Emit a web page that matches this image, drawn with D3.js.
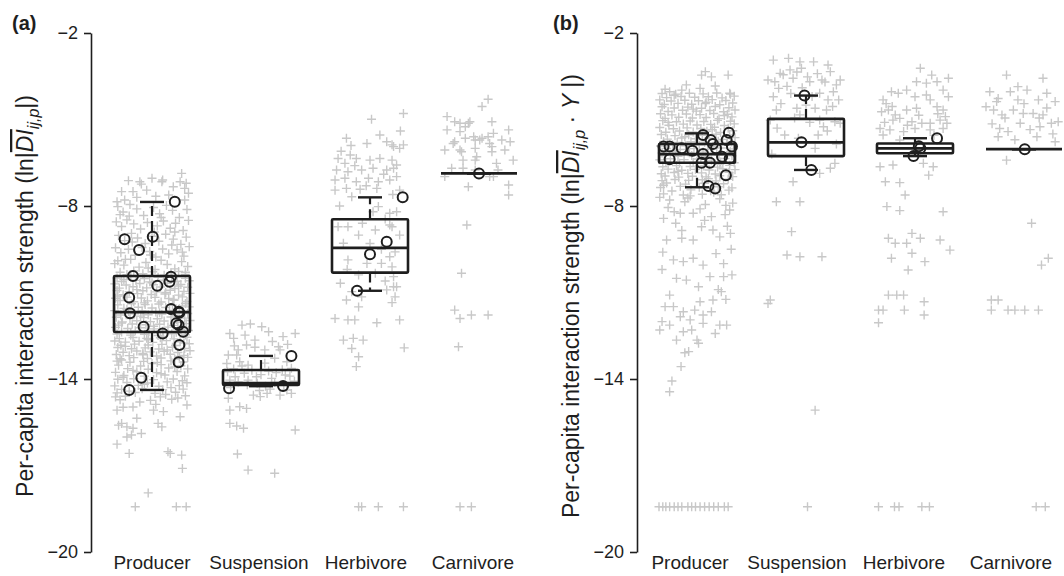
<!DOCTYPE html>
<html>
<head>
<meta charset="utf-8">
<script src="https://cdn.jsdelivr.net/npm/d3@7"></script>
<style>
  body { margin: 0; background: #fff; }
  text { font-family: "Liberation Sans", Arial, Helvetica, sans-serif; }
</style>
</head>
<body>
<svg id="chart" width="1064" height="576"></svg>
<script>
const categories = ['Producer', 'Suspension', 'Herbivore', 'Carnivore'];
const yTicks = [-2, -8, -14, -20];

// grey crosses: [jitter as fraction of box width, ln value]
const aProducer = [
  [.39,-6.87],[.14,-7.10],[.00,-7.04],[-.14,-7.24],[-.31,-7.12],[-.40,-7.50],[.37,-7.16],[.43,-7.39],[-.16,-7.16],[.13,-7.16],[-.25,-7.50],
  [-.07,-7.45],[.28,-7.33],[.45,-7.21],[-.46,-7.85],[-.36,-7.79],[.43,-7.79],[.48,-7.56],[.22,-7.62],[-.20,-7.70],[.05,-7.66],
  [-.45,-8.02],[-.38,-8.21],[-.29,-7.95],[-.20,-8.10],[-.11,-8.33],[.02,-8.05],[.10,-8.27],[.19,-7.98],[.27,-8.15],[.36,-8.40],[.46,-8.12],
  [-.47,-8.55],[-.40,-8.71],[-.33,-8.48],[-.24,-8.62],[-.15,-8.80],[-.06,-8.57],[.07,-8.69],[.15,-8.52],[.24,-8.77],[.31,-8.60],[.41,-8.85],[.48,-8.50],
  [-.44,-9.02],[-.36,-9.20],[-.27,-8.95],[-.19,-9.11],[-.09,-9.30],[.00,-9.05],[.09,-9.22],[.18,-8.98],[.28,-9.15],[.38,-9.33],[.45,-9.08],
  [-.48,-9.45],[-.41,-9.62],[-.31,-9.50],[-.22,-9.71],[-.13,-9.44],[-.03,-9.58],[.05,-9.77],[.14,-9.49],[.22,-9.66],[.33,-9.52],[.42,-9.74],[.49,-9.41],
  [-.45,-9.90],[-.37,-10.05],[-.28,-9.85],[-.17,-10.12],[-.08,-9.96],[.04,-10.20],[.12,-9.88],[.20,-10.03],[.30,-10.18],[.39,-9.93],[.47,-10.10],
  [-.42,-10.30],[-.33,-10.38],[-.24,-10.25],[-.12,-10.35],[.01,-10.28],[.16,-10.40],[.25,-10.32],[.35,-10.27],[.44,-10.37],
  [-.30,-8.35],[.03,-8.90],[-.35,-9.85],[.26,-9.35],[-.05,-10.15],
  [-.42,-8.30],[.12,-8.40],[.40,-9.60],[-.26,-9.25],[.30,-8.90],[-.02,-9.70],[.44,-10.30],[-.49,-10.00],
  [-.46,-10.50],[-.28,-10.45],[-.10,-10.52],[.08,-10.47],[.26,-10.44],[.44,-10.51],
  [-.40,-10.62],[-.21,-10.58],[-.03,-10.63],[.15,-10.57],[.33,-10.61],[.49,-10.59],
  [-.49,-10.70],[-.34,-10.74],[-.16,-10.69],[.02,-10.73],[.20,-10.68],[.38,-10.72],
  [-.43,-10.85],[-.25,-10.80],[-.07,-10.84],[.11,-10.81],[.30,-10.86],[.47,-10.82],
  [-.46,-10.93],[-.30,-10.97],[-.12,-10.94],[.06,-10.98],[.24,-10.92],[.42,-10.96],
  [-.38,-11.08],[-.19,-11.04],[-.01,-11.07],[.17,-11.05],[.35,-11.09],[.50,-11.03],
  [-.48,-11.20],[-.33,-11.16],[-.14,-11.19],[.04,-11.17],[.22,-11.21],[.40,-11.15],
  [-.42,-11.28],[-.24,-11.32],[-.06,-11.29],[.12,-11.33],[.29,-11.27],[.46,-11.31],
  [-.45,-11.43],[-.27,-11.39],[-.09,-11.42],[.09,-11.40],[.27,-11.44],[.44,-11.38],
  [-.37,-11.55],[-.18,-11.51],[.00,-11.54],[.18,-11.52],[.36,-11.56],[.49,-11.50],
  [-.49,-11.63],[-.31,-11.67],[-.13,-11.64],[.05,-11.68],[.23,-11.62],[.41,-11.66],
  [-.41,-11.78],[-.23,-11.74],[-.05,-11.77],[.13,-11.75],[.31,-11.79],[.47,-11.73],
  [-.47,-11.86],[-.29,-11.90],[-.11,-11.87],[.07,-11.91],[.25,-11.85],[.43,-11.89],
  [-.39,-12.02],[-.20,-11.98],[-.02,-12.01],[.16,-11.99],[.34,-12.03],[.50,-11.97],
  [-.44,-12.13],[-.26,-12.09],[-.08,-12.12],[.10,-12.10],[.28,-12.14],[.45,-12.08],
  [-.48,-12.21],[-.32,-12.25],[-.15,-12.22],[.03,-12.26],[.21,-12.20],[.39,-12.24],
  [-.40,-12.37],[-.22,-12.33],[-.04,-12.36],[.14,-12.34],[.32,-12.38],[.48,-12.32],
  [-.46,-12.44],[-.28,-12.48],[-.10,-12.45],[.08,-12.49],[.26,-12.43],[.44,-12.47],
  [-.43,-12.60],[-.25,-12.56],[-.07,-12.59],[.11,-12.57],[.29,-12.61],[.46,-12.55],
  [-.49,-12.68],[-.35,-12.72],[-.17,-12.69],[.01,-12.73],[.19,-12.67],[.37,-12.71],
  [-.41,-12.83],[-.23,-12.79],[-.05,-12.82],[.13,-12.80],[.31,-12.84],[.49,-12.78],
  [-.45,-12.91],[-.27,-12.95],[-.09,-12.92],[.09,-12.96],[.27,-12.90],[.43,-12.94],
  [-.38,-13.07],[-.20,-13.03],[-.02,-13.06],[.16,-13.04],[.34,-13.08],[.50,-13.02],
  [-.47,-13.15],[-.30,-13.19],[-.12,-13.16],[.06,-13.20],[.24,-13.14],[.42,-13.18],
  [-.42,-13.30],[-.24,-13.26],[-.06,-13.29],[.12,-13.27],[.30,-13.31],[.47,-13.25],
  [-.46,-13.38],[-.29,-13.42],[-.11,-13.39],[.07,-13.43],[.25,-13.37],[.41,-13.41],
  [-.37,-10.55],[.00,-10.66],[.35,-10.78],[-.20,-10.90],[.18,-11.00],[-.45,-11.12],[.28,-11.24],[-.10,-11.36],[.40,-11.47],[-.33,-11.58],
  [.10,-11.70],[-.15,-11.82],[.32,-11.94],[-.40,-12.06],[.02,-12.17],[.38,-12.29],[-.28,-12.40],[.15,-12.52],[-.05,-12.64],[.42,-12.75],
  [-.35,-12.87],[.20,-12.99],[-.12,-13.11],[.36,-13.22],[-.40,-13.34],[.00,-13.46],[.30,-13.58],[-.25,-13.70],[.12,-13.82],[-.38,-13.94],
  [.40,-14.06],[-.10,-14.18],[.25,-14.30],[-.30,-14.42],[.18,-14.54],[-.48,-14.62],[.34,-14.66],[-.16,-14.80],[.05,-14.88],[.46,-14.90],
  [-.44,-13.52],[-.15,-13.55],[.12,-13.50],[.38,-13.54],[-.32,-13.64],[-.05,-13.66],[.22,-13.62],[.47,-13.65],
  [-.48,-13.77],[-.20,-13.75],[.06,-13.78],[.33,-13.74],[-.37,-13.88],[-.10,-13.90],[.17,-13.86],[.43,-13.89],
  [-.45,-14.01],[-.24,-13.99],[.02,-14.02],[.28,-14.00],[-.33,-14.12],[-.06,-14.14],[.20,-14.10],[.46,-14.13],
  [-.49,-14.24],[-.18,-14.22],[.09,-14.25],[.36,-14.23],[-.40,-14.36],[-.13,-14.34],[.14,-14.37],[.41,-14.35],
  [-.46,-14.48],[-.22,-14.47],[.04,-14.50],[.31,-14.46],[-.35,-14.60],[.11,-14.62],[.44,-14.58],[-.42,-14.72],[-.02,-14.74],[.26,-14.70],
  [-.46,-15.08],[-.38,-14.98],[-.25,-14.97],[-.20,-15.36],[.02,-15.08],[.15,-15.13],[.37,-15.31],[-.44,-15.60],[-.40,-15.54],
  [-.33,-15.66],[-.25,-15.71],[-.14,-15.89],[.08,-15.54],[.13,-15.66],[-.46,-16.26],[-.33,-16.01],[-.27,-15.94],[-.30,-16.58],
  [.21,-16.52],[.24,-16.58],[.39,-16.64],[.40,-17.10],[-.05,-17.95],[-.22,-18.43],[.32,-18.43],[.45,-18.43]
];
const aSuspension = [
  [-.25,-12.13],[-.14,-12.09],[.01,-12.19],[.10,-12.36],[.45,-12.42],[.29,-12.53],[-.41,-12.42],[-.36,-12.59],[-.21,-12.48],[-.08,-12.65],
  [-.19,-12.82],[-.30,-12.99],[-.43,-13.17],[-.32,-13.17],[.23,-12.88],[.25,-12.99],[.18,-13.28],[.34,-13.40],[-.45,-13.46],[-.28,-13.40],
  [-.17,-13.52],[.05,-12.99],[.40,-13.63],[-.41,-14.04],[-.34,-13.92],[-.06,-13.92],[.14,-13.98],[-.17,-14.04],[.32,-13.86],[-.10,-14.56],
  [-.01,-14.61],[.08,-14.50],[.25,-14.56],[.34,-14.38],[-.43,-14.67],[-.41,-15.08],[-.28,-14.96],[-.19,-15.02],[-.41,-15.54],[-.32,-15.63],
  [-.23,-15.71],[.45,-15.77],[-.31,-16.60],[-.17,-17.16],[.18,-17.27],
  [-.44,-13.75],[-.36,-13.65],[-.22,-13.80],[-.12,-13.70],[.00,-13.85],[.10,-13.72],[.20,-13.78],[.28,-13.68],[.38,-13.90],[-.30,-14.10],
  [-.18,-14.20],[-.05,-14.15],[.06,-14.25],[.18,-14.12],[.30,-14.22],[.44,-14.08],[-.40,-14.30],[.12,-14.35],[-.25,-13.55],[.05,-13.45],
  [-.08,-12.90],[.15,-12.70],[.35,-12.80],[-.35,-12.85],[.40,-14.50],[-.02,-14.40]
];
const aHerbivore = [
  [.02,-4.99],[-.31,-5.65],[.13,-5.54],[-.04,-5.83],[.22,-5.77],[.31,-5.94],[-.42,-6.35],[-.33,-6.52],[-.26,-6.23],[-.18,-6.35],
  [.00,-6.41],[.13,-6.35],[.29,-6.41],[-.44,-6.75],[-.29,-6.81],[-.11,-6.75],[.04,-6.69],[.22,-6.75],[.35,-6.58],[-.46,-7.10],
  [-.33,-7.04],[-.18,-7.16],[-.02,-7.04],[.11,-7.16],[.26,-7.10],[-.46,-7.45],[-.31,-7.39],[-.13,-7.42],[.09,-7.39],[-.24,-7.68],
  [.11,-8.02],[.04,-8.20],[.26,-8.25],[-.42,-8.72],[-.29,-8.72],[-.15,-9.01],[.07,-8.83],[.26,-8.66],[-.35,-9.29],[-.29,-9.87],
  [-.04,-9.99],[.15,-9.99],[.26,-9.76],[-.15,-10.39],[.07,-10.33],[.31,-10.45],[-.39,-10.68],[-.24,-10.97],[-.11,-11.15],[.22,-10.91],
  [.35,-10.80],[-.31,-11.26],[-.46,-11.90],[-.29,-11.95],[-.20,-11.95],[.09,-12.05],[-.35,-12.65],[-.22,-12.59],[-.09,-12.65],[-.24,-12.94],
  [-.15,-13.23],[-.18,-13.57],[-.15,-18.43],[-.11,-18.43],[.11,-18.43],[.44,-4.79],[.29,-5.88],[.39,-6.00],[.44,-5.88],[.31,-6.69],
  [.35,-6.98],[.39,-7.45],[.35,-8.20],[.29,-8.72],[.39,-9.01],[.33,-9.59],[.29,-10.11],[.31,-10.80],[.33,-11.15],[.29,-11.35],
  [.39,-11.95],[.45,-12.92],[.44,-18.43],
  [-.38,-6.10],[-.20,-6.60],[.18,-6.90],[-.05,-7.30],[.30,-7.60],[-.40,-8.00],[.20,-8.45],[-.10,-8.60],[.00,-9.30],[.15,-9.50],
  [-.30,-10.20],[.20,-10.60],[-.15,-11.50],[.40,-5.40],[-.25,-5.90]
];
const aCarnivore = [
  [-.42,-4.90],[-.32,-5.08],[-.18,-5.25],[-.12,-5.08],[-.25,-5.42],[-.05,-5.71],[.04,-5.65],[-.32,-5.77],[-.45,-6.06],[-.25,-6.06],
  [-.21,-6.41],[-.05,-6.41],[.12,-5.60],[.17,-6.12],[-.36,-6.69],[-.21,-6.69],[-.14,-7.33],[-.16,-8.66],[-.23,-10.33],[-.32,-11.61],
  [-.25,-11.90],[-.10,-11.78],[.12,-11.78],[-.27,-12.88],[.04,-4.55],[.12,-4.30],[-.25,-18.43],[-.10,-18.43],
  [.17,-5.08],[.39,-5.36],[.19,-5.48],[.30,-5.71],[.41,-5.77],[.17,-5.94],[.34,-6.06],[.45,-6.41],[.23,-6.52],[.14,-6.98],
  [.39,-7.27],[.39,-7.62],[-.25,-5.13],[-.14,-5.13],[-.42,-5.36],[-.07,-5.60],[-.18,-5.65],[.01,-5.71],[-.34,-5.83],[-.23,-6.12],
  [-.05,-6.00],[.14,-5.83],[-.03,-6.29],[-.05,-6.75],[.25,-6.75],[-.45,-6.98],[.19,-6.98]
];

const bProducer = [
  [.11,-3.34],[.06,-3.46],[.19,-3.52],[.41,-3.46],[-.14,-3.80],[-.36,-4.04],[-.42,-3.95],[-.20,-3.98],[.04,-3.92],[.24,-3.84],[.43,-4.09],
  [-.46,-4.10],[-.28,-4.12],[-.10,-4.09],[.08,-4.11],[.26,-4.08],[.44,-4.12],
  [-.40,-4.24],[-.21,-4.20],[-.03,-4.23],[.15,-4.21],[.33,-4.25],[.49,-4.19],
  [-.49,-4.32],[-.34,-4.36],[-.16,-4.33],[.02,-4.35],[.20,-4.31],[.38,-4.34],
  [-.43,-4.48],[-.25,-4.44],[-.07,-4.47],[.11,-4.45],[.30,-4.49],[.47,-4.43],
  [-.46,-4.56],[-.30,-4.60],[-.12,-4.57],[.06,-4.61],[.24,-4.55],[.42,-4.59],
  [-.38,-4.72],[-.19,-4.68],[-.01,-4.71],[.17,-4.69],[.35,-4.73],[.50,-4.67],
  [-.48,-4.80],[-.33,-4.84],[-.14,-4.81],[.04,-4.83],[.22,-4.79],[.40,-4.82],
  [-.42,-4.96],[-.24,-4.92],[-.06,-4.95],[.12,-4.93],[.29,-4.97],[.46,-4.91],
  [-.45,-5.04],[-.27,-5.08],[-.09,-5.05],[.09,-5.07],[.27,-5.03],[.44,-5.06],
  [-.37,-5.20],[-.18,-5.16],[.00,-5.19],[.18,-5.17],[.36,-5.21],[.49,-5.15],
  [-.49,-5.28],[-.31,-5.32],[-.13,-5.29],[.05,-5.31],[.23,-5.27],[.41,-5.30],
  [-.41,-5.44],[-.23,-5.40],[-.05,-5.43],[.13,-5.41],[.31,-5.45],[.47,-5.39],
  [-.47,-5.52],[-.29,-5.56],[-.11,-5.53],[.07,-5.55],[.25,-5.51],[.43,-5.54],
  [-.39,-5.68],[-.20,-5.64],[-.02,-5.67],[.16,-5.65],[.34,-5.69],[.50,-5.63],
  [-.44,-5.76],[-.26,-5.80],[-.08,-5.77],[.10,-5.79],[.28,-5.75],[.45,-5.78],
  [-.48,-5.92],[-.32,-5.88],[-.15,-5.91],[.03,-5.89],[.21,-5.93],[.39,-5.87],
  [-.40,-6.00],[-.22,-6.04],[-.04,-6.01],[.14,-6.03],[.32,-5.99],[.48,-6.02],
  [-.46,-6.16],[-.28,-6.12],[-.10,-6.15],[.08,-6.13],[.26,-6.17],[.44,-6.11],
  [-.43,-6.24],[-.25,-6.28],[-.07,-6.25],[.11,-6.27],[.29,-6.23],[.46,-6.26],
  [-.49,-6.40],[-.35,-6.36],[-.17,-6.39],[.01,-6.37],[.19,-6.41],[.37,-6.35],
  [-.41,-6.48],[-.23,-6.52],[-.05,-6.49],[.13,-6.51],[.31,-6.47],[.49,-6.50],
  [-.45,-6.64],[-.27,-6.60],[-.09,-6.63],[.09,-6.61],[.27,-6.65],[.43,-6.59],
  [-.38,-6.72],[-.20,-6.76],[-.02,-6.73],[.16,-6.75],[.34,-6.71],[.50,-6.74],
  [-.47,-6.88],[-.30,-6.84],[-.12,-6.87],[.06,-6.85],[.24,-6.89],[.42,-6.83],
  [-.42,-6.96],[-.24,-7.00],[-.06,-6.97],[.12,-6.99],[.30,-6.95],[.47,-6.98],
  [-.46,-7.12],[-.29,-7.08],[-.11,-7.11],[.07,-7.09],[.25,-7.13],[.41,-7.07],
  [-.40,-7.20],[-.15,-7.24],[.10,-7.21],[.35,-7.23],[-.48,-7.36],[-.22,-7.32],[.03,-7.35],[.28,-7.33],[.46,-7.37],
  [-.33,-7.48],[-.08,-7.44],[.18,-7.47],[.42,-7.45],[-.44,-7.58],[-.18,-7.62],[.07,-7.59],[.32,-7.61],
  [-.30,-4.16],[.12,-4.40],[-.05,-4.64],[.36,-4.86],[-.38,-5.10],[.20,-5.35],[-.16,-5.60],[.40,-5.83],[-.32,-6.07],[.05,-6.32],
  [.30,-6.55],[-.25,-6.80],[.15,-7.05],[-.44,-7.28],[.22,-7.52],[-.12,-7.72],[.38,-7.98],[-.30,-8.20],[.10,-8.50],[-.20,-8.85],[.44,-8.95],
  [-.36,-7.79],[-.49,-7.70],[-.16,-7.85],[-.09,-7.65],[.11,-7.95],[.30,-7.75],[.47,-7.90],[-.38,-8.05],[.04,-8.10],[.37,-8.30],
  [-.44,-8.43],[-.22,-8.25],[-.05,-8.25],[.19,-8.37],[.43,-8.14],[-.40,-9.18],[-.20,-9.12],[-.05,-9.18],[.06,-8.72],[.21,-8.83],
  [.30,-9.07],[-.31,-9.87],[-.18,-9.93],[-.05,-9.81],[.08,-10.05],[.17,-10.45],[.35,-10.45],[.46,-10.39],[-.27,-10.51],[-.14,-10.57],
  [-.36,-11.09],[-.28,-8.60],[.40,-8.70],[.45,-9.50],[-.45,-9.60],[.25,-9.65],[.35,-10.00],[-.46,-10.20],[.02,-10.80],[.28,-10.90],
  [-.49,-12.30],[-.46,-12.01],[-.36,-12.13],[-.42,-11.49],[-.31,-11.49],[-.27,-12.65],[-.22,-11.84],[-.18,-11.67],[-.18,-12.36],[-.09,-11.95],
  [-.07,-12.30],[-.03,-11.61],[.00,-12.65],[.02,-12.76],[.04,-11.32],[.08,-11.78],[.08,-12.07],[.19,-11.67],[.21,-11.26],[.24,-12.42],
  [.32,-10.97],[.38,-11.24],[.30,-12.13],[.39,-12.13],[-.16,-13.09],[-.11,-13.05],[-.21,-13.57],[-.33,-14.07],[-.36,-14.44],
  [-.50,-18.43],[-.45,-18.43],[-.41,-18.43],[-.36,-18.43],[-.30,-18.43],[-.25,-18.43],[-.20,-18.43],[-.12,-18.43],[-.07,-18.43],
  [-.02,-18.43],[.04,-18.43],[.10,-18.43],[.16,-18.43],[.22,-18.43],[.28,-18.43],[.36,-18.43],[.41,-18.43]
];
const bSuspension = [
  [-.23,-2.88],[-.08,-3.00],[-.06,-3.22],[.10,-3.00],[.29,-3.11],[.32,-3.34],[.40,-3.80],[.45,-3.63],[.21,-3.63],[.05,-3.69],
  [-.17,-3.57],[-.21,-3.28],[.18,-4.09],[.36,-4.04],[.29,-4.32],[.43,-4.32],[.27,-4.67],[.12,-4.61],[-.12,-4.61],[-.08,-4.84],
  [.18,-5.02],[.23,-5.25],[.38,-5.08],[.45,-5.13],[-.28,-5.54],[.16,-5.54],[.38,-6.52],[.32,-6.69],[.18,-6.87],[-.17,-7.16],
  [-.08,-7.85],[-.19,-8.89],[-.08,-9.76],[.21,-9.76],[-.43,-2.94],[-.50,-3.63],[-.41,-3.69],[-.36,-3.92],[-.43,-4.21],[-.34,-3.40],
  [-.39,-4.67],[-.47,-5.02],[-.39,-7.85],[-.47,-11.26],[-.50,-11.38],[-.25,-9.70],[.12,-15.08],[.02,-18.43],
  [-.30,-3.45],[-.12,-3.35],[.02,-3.52],[.15,-3.41],[.25,-3.70],[-.25,-3.85],[-.05,-3.90],[.08,-4.20],[-.20,-4.10],[-.33,-4.45],
  [.00,-4.50],[.35,-4.55],[-.15,-4.95],[.05,-5.10],[-.38,-5.30],[.28,-5.40],[-.10,-5.65],[.40,-5.85],[-.45,-6.20],[.12,-6.00]
];
const bHerbivore = [
  [.07,-3.22],[.22,-3.46],[.44,-3.57],[.02,-3.69],[.15,-3.74],[.29,-3.69],[-.11,-3.98],[-.31,-4.04],[-.22,-4.09],[.00,-4.21],
  [.15,-4.15],[.37,-3.98],[.44,-4.21],[-.42,-4.32],[.20,-4.32],[-.44,-4.73],[-.35,-4.67],[-.26,-4.84],[-.11,-4.67],[.02,-4.61],
  [.29,-4.56],[.37,-4.67],[-.29,-5.02],[-.20,-4.96],[-.04,-5.08],[.09,-5.13],[.20,-5.13],[.33,-5.02],[.42,-5.13],[-.46,-5.31],
  [-.33,-5.36],[-.15,-5.42],[.00,-5.31],[.20,-5.36],[.37,-5.31],[-.42,-5.54],[-.20,-5.71],[-.46,-6.64],[-.29,-6.58],[.11,-6.52],
  [.24,-6.64],[.18,-6.93],[-.39,-7.16],[-.20,-7.19],[-.13,-7.62],[-.37,-8.02],[-.20,-8.16],[.37,-8.20],[-.35,-9.12],[-.26,-9.29],
  [-.11,-9.29],[-.04,-8.95],[.07,-9.12],[.33,-9.18],[.46,-9.53],[-.31,-9.81],[-.04,-9.64],[.13,-9.93],[-.09,-10.22],[-.24,-11.09],
  [-.15,-11.09],[-.35,-11.09],[-.48,-11.61],[-.42,-11.61],[-.14,-11.61],[.12,-11.32],[.12,-11.78],[-.48,-12.05],
  [-.48,-18.43],[-.27,-18.43],[-.21,-18.43],[.09,-18.43],[.19,-18.43],
  [-.38,-4.45],[-.30,-4.55],[.30,-4.80],[.40,-4.90],[-.40,-5.10],[.25,-5.55],[-.10,-5.20],[.05,-4.85]
];
const bCarnivore = [
  [-.23,-3.46],[.25,-3.57],[-.45,-4.04],[-.34,-4.27],[-.18,-4.04],[-.08,-4.32],[.04,-3.98],[.19,-4.32],[.30,-4.09],[.41,-4.38],
  [-.40,-4.67],[-.29,-4.84],[-.14,-4.67],[-.01,-4.79],[.12,-4.79],[.25,-4.84],[.36,-5.13],[.45,-5.08],[-.32,-5.31],[-.21,-5.42],
  [-.05,-5.13],[.21,-5.25],[-.34,-5.60],[.17,-5.60],[.41,-5.77],[-.23,-6.41],[.10,-8.60],[.32,-9.81],[.23,-10.05],[-.36,-4.38],
  [-.08,-3.86],[-.50,-4.56],[-.43,-11.26],[-.34,-11.26],[-.43,-11.61],[-.21,-11.61],[-.12,-11.61],[.01,-11.61],[.19,-11.61],
  [.16,-18.43],[.28,-18.43],
  [-.25,-4.95],[.08,-5.35],[.30,-4.60],[-.12,-5.70],[.38,-5.50],[-.42,-5.15],[.00,-4.45],[.20,-4.95]
];

// open circles: [jitter, ln value]
const aProducerPts = [[.30,-7.85],[-.36,-9.15],[.01,-9.07],[-.17,-9.53],[-.25,-10.43],[.25,-10.45],[.23,-10.63],[.07,-10.77],[-.30,-11.17],[-.29,-11.72],[.25,-11.57],[.35,-11.67],[.36,-11.70],[.32,-12.07],[.35,-12.13],[-.11,-12.19],[.14,-12.42],[.41,-12.36],[.36,-12.82],[.35,-13.42],[-.14,-13.96],[-.30,-14.38]];
const aSuspensionPts = [[.40,-13.20],[-.42,-14.32],[.29,-14.24]];
const aHerbivorePts = [[.43,-7.70],[.22,-9.24],[.00,-9.67],[-.17,-10.94]];
const aCarnivorePts = [[.00,-6.87]];
const bProducerPts = [[-.36,-5.94],[-.36,-6.38],[-.20,-6.00],[-.06,-6.08],[.08,-5.54],[.18,-5.71],[.21,-5.85],[.25,-6.00],[.42,-5.46],[.39,-5.71],[.46,-5.94],[.08,-6.20],[.17,-6.50],[.06,-6.50],[.33,-6.29],[.43,-6.35],[.38,-6.93],[.15,-7.31],[.24,-7.39],[-.44,-5.94]];
const bSuspensionPts = [[-.02,-4.17],[-.06,-5.79],[.07,-6.75]];
const bHerbivorePts = [[.29,-5.65],[.07,-6.00],[.05,-5.93],[-.02,-6.27]];
const bCarnivorePts = [[.01,-6.03]];

// box stats: [lower whisker, q1, median, q3, upper whisker]
const aStats = [[-14.38,-12.37,-11.68,-10.43,-7.86],[-14.25,-14.21,-14.14,-13.69,-13.20],[-10.94,-10.31,-9.45,-8.46,-7.70],[-6.87,-6.87,-6.87,-6.87,-6.87]];
const bStats = [[-7.35,-6.50,-6.20,-5.85,-5.48],[-6.75,-6.27,-5.79,-4.98,-4.17],[-6.27,-6.17,-6.00,-5.83,-5.65],[-6.03,-6.03,-6.03,-6.03,-6.03]];

const svg = d3.select('#chart');
const ink = '#1e1e1e';
const y = d3.scaleLinear().domain([-20, -2]).range([552, 33]);
const boxW = 76;

function drawPanel(cfg) {
  const g = svg.append('g');
  const x = d3.scalePoint().domain(categories).range(cfg.boxRange);
  const xLab = d3.scalePoint().domain(categories).range(cfg.labelRange);

  /* grey crosses */
  categories.forEach((c, i) => {
    g.append('g').selectAll('path').data(cfg.crosses[i]).join('path')
      .attr('d', 'M-4.5,0H4.5M0,-4.5V4.5')
      .attr('transform', d => `translate(${x(c) + d[0] * boxW},${y(d[1])})`)
      .attr('stroke', '#c8c8c8')
      .attr('stroke-width', 1.4)
      .attr('fill', 'none');
  });

  /* boxes */
  categories.forEach((c, i) => {
    const [lo, q1, med, q3, hi] = cfg.stats[i];
    const cx = x(c);
    const bg = g.append('g').attr('stroke', ink).attr('fill', 'none');
    bg.append('line').attr('x1', cx).attr('x2', cx).attr('y1', y(q3)).attr('y2', y(hi))
      .attr('stroke-width', 2.2).attr('stroke-dasharray', '10,5');
    bg.append('line').attr('x1', cx).attr('x2', cx).attr('y1', y(q1)).attr('y2', y(lo))
      .attr('stroke-width', 2.2).attr('stroke-dasharray', '10,5');
    [lo, hi].forEach(v => {
      bg.append('line').attr('x1', cx - 12).attr('x2', cx + 12).attr('y1', y(v)).attr('y2', y(v))
        .attr('stroke-width', 2.4);
    });
    bg.append('rect').attr('x', cx - boxW / 2).attr('y', y(q3))
      .attr('width', boxW).attr('height', y(q1) - y(q3))
      .attr('stroke-width', 2.6).attr('rx', 1);
    bg.append('line').attr('x1', cx - boxW / 2).attr('x2', cx + boxW / 2).attr('y1', y(med)).attr('y2', y(med))
      .attr('stroke-width', 2.8);
  });

  /* open circles */
  categories.forEach((c, i) => {
    g.append('g').selectAll('circle').data(cfg.points[i]).join('circle')
      .attr('cx', d => x(c) + d[0] * boxW)
      .attr('cy', d => y(d[1]))
      .attr('r', 5)
      .attr('fill', 'none')
      .attr('stroke', ink)
      .attr('stroke-width', 2);
  });

  /* y axis */
  const ax = g.append('g')
    .attr('transform', `translate(${cfg.axisX},0)`)
    .call(d3.axisLeft(y).tickValues(yTicks).tickSize(7).tickSizeOuter(0).tickPadding(6));
  ax.select('.domain').attr('stroke', ink).attr('stroke-width', 1.6);
  ax.selectAll('.tick line').attr('stroke', ink).attr('stroke-width', 1.6);
  ax.selectAll('.tick text')
    .attr('fill', ink)
    .attr('font-size', 18)
    .attr('font-family', '"Liberation Sans", Arial, sans-serif');

  /* category labels */
  g.append('g').selectAll('text').data(categories).join('text')
    .attr('x', d => xLab(d))
    .attr('y', 569)
    .attr('text-anchor', 'middle')
    .attr('font-size', 19)
    .attr('fill', ink)
    .text(d => d);

  /* panel tag */
  g.append('text')
    .attr('x', cfg.tagX).attr('y', 30)
    .attr('font-size', 20).attr('font-weight', 'bold').attr('fill', ink)
    .text(cfg.tag);

  /* y title */
  const t = g.append('text')
    .attr('transform', `translate(${cfg.titleX},296) rotate(-90)`)
    .attr('text-anchor', 'middle')
    .attr('font-size', 23)
    .attr('fill', ink);
  t.append('tspan').text('Per-capita interaction strength (ln|');
  t.append('tspan').attr('font-style', 'italic').attr('text-decoration', 'overline').text('DI');
  t.append('tspan').attr('font-style', 'italic').attr('font-size', 16).attr('dy', 6).text('ij,p');
  if (cfg.extra) {
    t.append('tspan').attr('dy', -6).text(' · ');
    t.append('tspan').attr('font-style', 'italic').text('Y');
    t.append('tspan').text(' |)');
  } else {
    t.append('tspan').attr('dy', -6).text('|)');
  }
}

drawPanel({
  axisX: 91, boxRange: [152, 479], labelRange: [152, 473],
  titleX: 33, tag: '(a)', tagX: 12,
  crosses: [aProducer, aSuspension, aHerbivore, aCarnivore],
  points: [aProducerPts, aSuspensionPts, aHerbivorePts, aCarnivorePts],
  stats: aStats
});
drawPanel({
  axisX: 637, boxRange: [697, 1024], labelRange: [690, 1011],
  titleX: 579, tag: '(b)', tagX: 553, extra: true,
  crosses: [bProducer, bSuspension, bHerbivore, bCarnivore],
  points: [bProducerPts, bSuspensionPts, bHerbivorePts, bCarnivorePts],
  stats: bStats
});
</script>
</body>
</html>
